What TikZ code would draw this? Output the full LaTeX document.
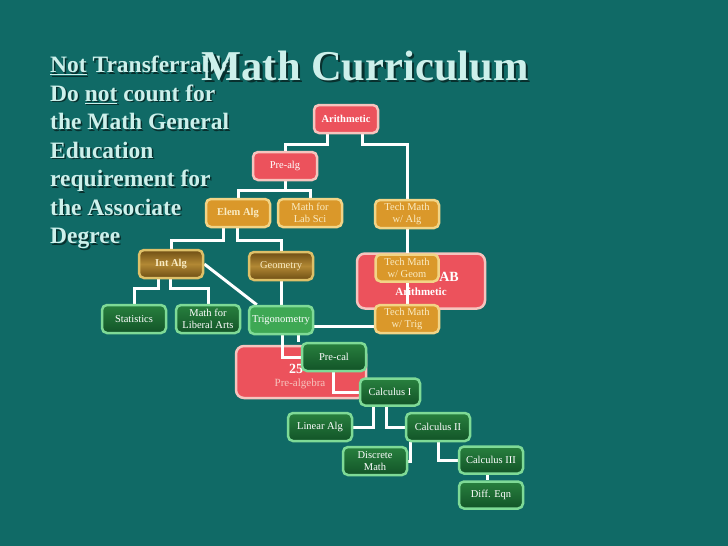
\documentclass[tikz,border=0pt]{standalone}
\usepackage{fontspec}
\setmainfont{Liberation Serif}
\usepackage{xcolor}
\usepackage{tikz}

\definecolor{slate}{RGB}{16,106,102}
\definecolor{chalk}{RGB}{205,240,235}
\definecolor{shade}{RGB}{8,48,46}
\definecolor{redfill}{RGB}{236,82,92}
\definecolor{redrim}{RGB}{246,196,190}
\definecolor{ochre}{RGB}{218,152,42}
\definecolor{ochrerim}{RGB}{242,212,134}
\definecolor{cream}{RGB}{250,236,196}
\definecolor{browntop}{RGB}{110,78,20}
\definecolor{brownmid}{RGB}{178,136,52}
\definecolor{brownrim}{RGB}{222,192,104}
\definecolor{greendark}{RGB}{18,84,40}
\definecolor{greenlite}{RGB}{40,128,62}
\definecolor{greenrim}{RGB}{126,218,150}
\definecolor{trigfill}{RGB}{62,168,84}

\pgfdeclarelayer{bigbox}
\pgfdeclarelayer{wires}
\pgfsetlayers{bigbox,wires,main}

\tikzset{
  box/.style={rounded corners=5pt, line width=2.5pt, minimum width=64pt, minimum height=28pt,
    inner sep=1pt, align=center, font=\fontsize{10.5}{12.5}\selectfont},
  redbox/.style={box, fill=redfill, draw=redrim, text=white},
  orangebox/.style={box, fill=ochre, draw=ochrerim, text=cream},
  brownbox/.style={box, draw=brownrim, top color=browntop, bottom color=browntop, middle color=brownmid, text=cream},
  greenbox/.style={box, draw=greenrim, top color=greenlite, bottom color=greendark, text=white},
  bigred/.style={rounded corners=8pt, line width=2.5pt, fill=redfill, draw=redrim, text=white},
  wire/.style={draw=white, line width=3pt},
}

\begin{document}
\begin{tikzpicture}[x=1pt,y=-1pt]
  \begin{pgfonlayer}{bigbox}
    \fill[slate] (0,0) rectangle (728,546);
    \node[bigred, minimum width=128pt, minimum height=55pt] (arithab) at (421,281) {};
    \node[text=white, font=\fontsize{11}{13}\selectfont\bfseries] (arithabname) at (421,292) {Arithmetic};
    \node[text=white, font=\fontsize{14}{16}\selectfont\bfseries] (arithabcode) at (449,277) {AB};
    \node[bigred, minimum width=130pt, minimum height=52pt] (prealgbig) at (301,372) {};
    \node[text=redrim, font=\fontsize{11}{13}\selectfont] (prealgbigname) at (300,384) {Pre-algebra};
    \node[text=white, font=\fontsize{14}{16}\selectfont\bfseries, anchor=west, inner sep=0pt] (prealgbigcode) at (289,369) {25};
  \end{pgfonlayer}

  \node[text=shade, anchor=north west, inner sep=0pt, align=left, font=\fontsize{23.5}{28.5}\selectfont\bfseries] (notesshadow) at (51.5,57.5)
    {\underline{Not} Transferrable\\Do \underline{not} count for\\the Math General\\Education\\requirement for\\the Associate\\Degree};
  \node[text=chalk, anchor=north west, inner sep=0pt, align=left, font=\fontsize{23.5}{28.5}\selectfont\bfseries] (notes) at (50,56)
    {\underline{Not} Transferrable\\Do \underline{not} count for\\the Math General\\Education\\requirement for\\the Associate\\Degree};
  \node[text=shade, anchor=base, font=\fontsize{42.5}{50}\selectfont\bfseries] (titleshadow) at (367.5,82.5) {Math Curriculum};
  \node[text=chalk, anchor=base, font=\fontsize{42.5}{50}\selectfont\bfseries] (title) at (365,80) {Math Curriculum};

  \node[redbox] (arith) at (346,119) {\textbf{Arithmetic}};
  \node[redbox] (prealg) at (285,166) {Pre-alg};
  \node[orangebox] (elemalg) at (238,213) {\textbf{Elem Alg}};
  \node[orangebox] (labsci) at (310,213) {Math for\\Lab Sci};
  \node[orangebox] (techalg) at (407,214) {Tech Math\\w/ Alg};
  \node[brownbox] (intalg) at (171,264) {\textbf{Int Alg}};
  \node[brownbox] (geom) at (281,266) {Geometry};
  \node[orangebox, minimum width=63pt, minimum height=27pt] (techgeom) at (407,268) {Tech Math\\w/ Geom};
  \node[greenbox] (stats) at (134,319) {Statistics};
  \node[greenbox] (libarts) at (208,319) {Math for\\Liberal Arts};
  \node[greenbox, fill=trigfill, top color=trigfill, bottom color=trigfill] (trig) at (281,320) {Trigonometry};
  \node[orangebox] (techtrig) at (407,319) {Tech Math\\w/ Trig};
  \node[greenbox] (precal) at (334,357) {Pre-cal};
  \node[greenbox, minimum width=60pt, minimum height=27pt] (calcone) at (390,392) {Calculus I};
  \node[greenbox] (linalg) at (320,427) {Linear Alg};
  \node[greenbox] (calctwo) at (438,427) {Calculus II};
  \node[greenbox] (discrete) at (375,461) {Discrete\\Math};
  \node[greenbox, minimum height=27pt] (calcthree) at (491,460) {Calculus III};
  \node[greenbox, minimum height=27pt] (diffeq) at (491,495) {Diff. Eqn};

  \begin{pgfonlayer}{wires}
    \draw[wire] ([xshift=-19pt]arith.south) -- ++(0,10) -| (prealg.north);
    \draw[wire] ([xshift=16pt]arith.south) -- ++(0,10) -| (techalg.north);
    \draw[wire] (prealg.south) -- ++(0,9) -| (elemalg.north);
    \draw[wire] (prealg.south) -- ++(0,9) -| (labsci.north);
    \draw[wire] ([xshift=-15pt]elemalg.south) -- ++(0,12) -| (intalg.north);
    \draw[wire] ([xshift=-1pt]elemalg.south) -- ++(0,12) -| (geom.north);
    \draw[wire] ([xshift=-13pt]intalg.south) -- ++(0,9) -| (stats.north);
    \draw[wire] ([xshift=-1pt]intalg.south) -- ++(0,9) -| (libarts.north);
    \draw[wire] (intalg.east) -- ([xshift=9pt]trig.north west);
    \draw[wire] (geom.south) -- (trig.north);
    \draw[wire] ([yshift=-6pt]trig.east) -- ([yshift=-6pt]trig.east -| techtrig.west);
    \draw[wire] (techalg.south) -- (techgeom.north);
    \draw[wire] (techgeom.south) -- (techtrig.north);
    \draw[wire] ([xshift=1pt]trig.south) |- (precal.west);
    \draw[wire] ([xshift=17pt]trig.south) -- ([xshift=17pt]trig.south |- precal.north);
    \draw[wire] ([xshift=-1pt]precal.south) |- (calcone.west);
    \draw[wire] ([xshift=-17pt]calcone.south) |- (linalg.east);
    \draw[wire] ([xshift=-4pt]calcone.south) |- (calctwo.west);
    \draw[wire] ([xshift=-28pt]calctwo.south) |- (discrete.east);
    \draw[wire] (calctwo.south) |- (calcthree.west);
    \draw[wire] ([xshift=-4pt]calcthree.south) -- ([xshift=-4pt]diffeq.north);
  \end{pgfonlayer}
\end{tikzpicture}
\end{document}
